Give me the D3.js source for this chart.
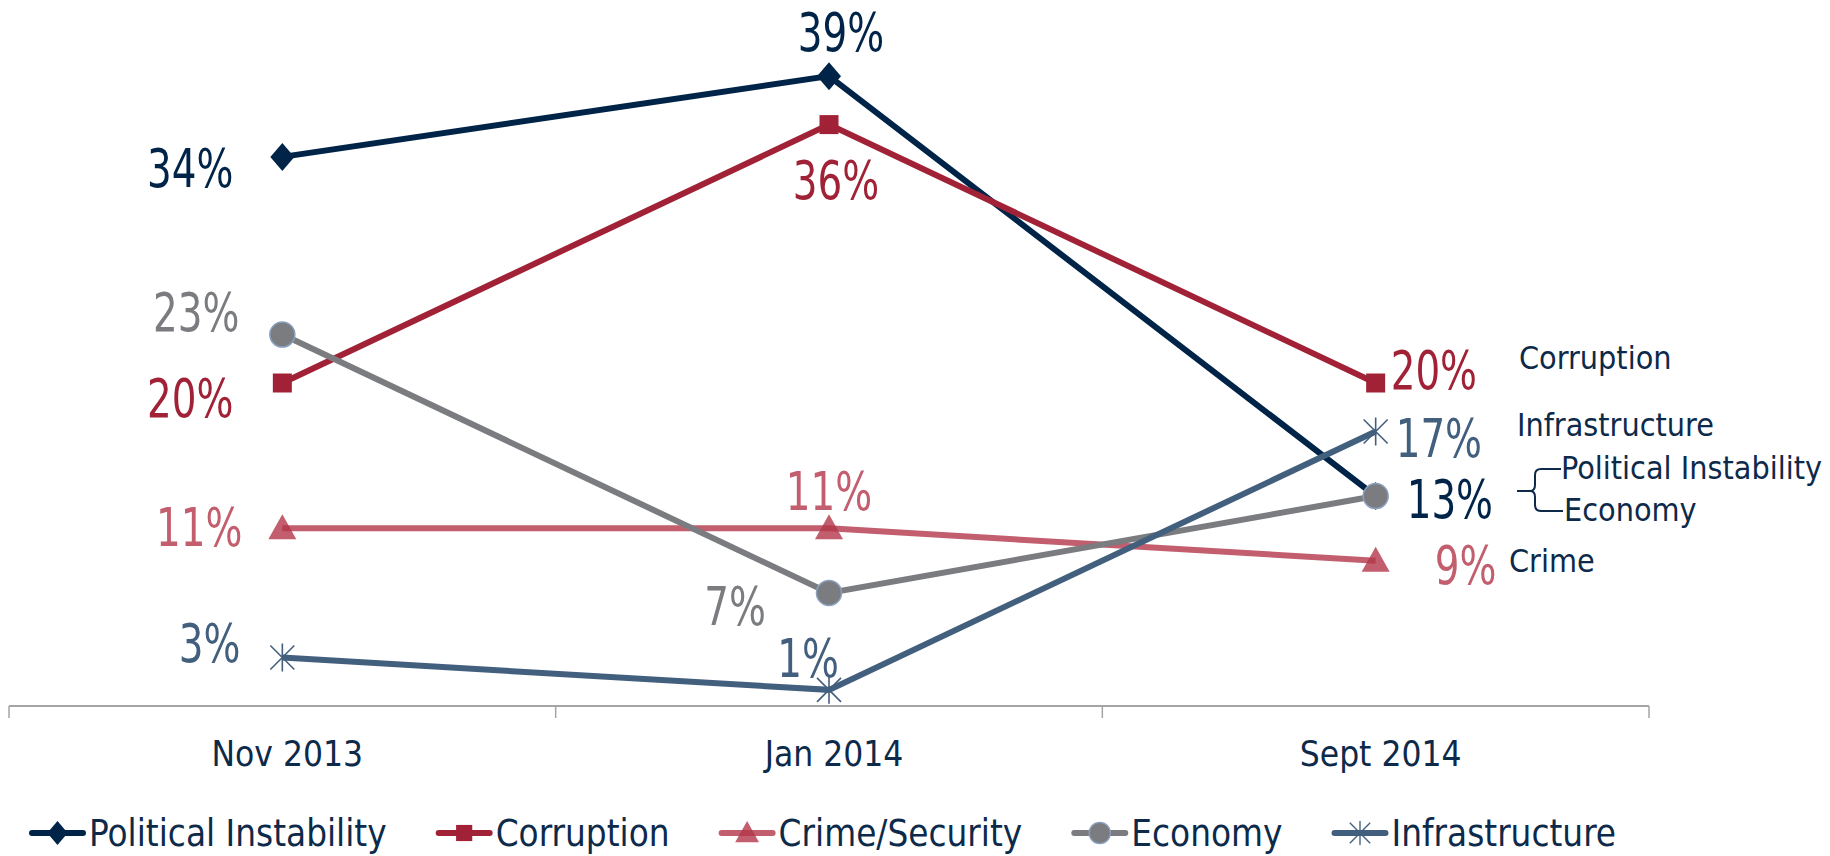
<!DOCTYPE html>
<html lang="en">
<head>
    <meta charset="UTF-8">
    <title>Most important problem facing the country</title>
    <script src="https://d3js.org/d3.v7.min.js"></script>
    <style>
        body {
            margin: 0;
            background: #ffffff;
        }
        svg {
            display: block;
        }
        .pct {
            font-family: 'DejaVu Sans Condensed', 'DejaVu Sans', sans-serif;
            font-size: 54px;
        }
        .axis-label, .legend-text, .note {
            font-family: 'DejaVu Sans Condensed', 'DejaVu Sans', sans-serif;
            fill: #0d2a4a;
        }
    </style>
</head>
<body>
<svg id="chart" width="1830" height="856"></svg>

<script>
    // Data
    const categories = ['Nov 2013', 'Jan 2014', 'Sept 2014'];

    const politicalInstability = [34, 39, 13];
    const corruption = [20, 36, 20];
    const crimeSecurity = [11, 11, 9];
    const economy = [23, 7, 13];
    const infrastructure = [3, 1, 17];

    const seriesNames = ['Political Instability', 'Corruption', 'Crime/Security', 'Economy', 'Infrastructure'];

    // label placement per point: [dx, dy, anchor] (null = no label)
    const labelPos = [
        [[-49, 12, 'end'], [12, -43, 'middle'], [31, 4, 'start']],
        [[-49, 16, 'end'], [7, 56, 'middle'], [15, -12, 'start']],
        [[-40, -1, 'end'], [0, -37, 'middle'], [59, 5, 'start']],
        [[-43, -22, 'end'], [-63, 14, 'end'], null],
        [[-42, -14, 'end'], [-21, -31, 'middle'], [20, 7, 'start']]
    ];

    const series = [
        { name: seriesNames[0], values: politicalInstability, color: '#002448', marker: 'diamond', opacity: 1 },
        { name: seriesNames[1], values: corruption, color: '#a12236', marker: 'square', opacity: 1 },
        { name: seriesNames[2], values: crimeSecurity, color: '#b3364a', marker: 'triangle', opacity: 0.8 },
        { name: seriesNames[3], values: economy, color: '#7b7c80', marker: 'circle', opacity: 1 },
        { name: seriesNames[4], values: infrastructure, color: '#435f7e', marker: 'star', opacity: 1 }
    ];

    const svg = d3.select('#chart');

    const x = d3.scaleBand().domain(categories).range([9, 1649]);
    const y = d3.scaleLinear().domain([0, 40]).range([706, 60]);
    const cx = d => x(d) + x.bandwidth() / 2;

    // x axis
    const axisG = svg.append('g').attr('transform', 'translate(0,706)');
    axisG.append('line')
        .attr('x1', 9).attr('x2', 1649)
        .attr('stroke', '#a5a5a8').attr('stroke-width', 2);
    axisG.selectAll('.tick-mark')
        .data(d3.range(categories.length + 1))
        .enter().append('line')
        .attr('x1', i => 9 + i * x.step())
        .attr('x2', i => 9 + i * x.step())
        .attr('y1', 0).attr('y2', 12)
        .attr('stroke', '#a5a5a8').attr('stroke-width', 1.5);
    axisG.selectAll('.axis-label')
        .data(categories)
        .enter().append('text')
        .attr('class', 'axis-label')
        .attr('x', d => cx(d) + 5)
        .attr('y', 48)
        .attr('text-anchor', 'middle')
        .attr('dominant-baseline', 'central')
        .attr('font-size', 35)
        .text(d => d);

    function markerPath(type) {
        switch (type) {
            case 'diamond': return 'M0,-14L12,0L0,14L-12,0Z';
            case 'square': return 'M-9.5,-9.5H9.5V9.5H-9.5Z';
            case 'triangle': return 'M0,-14L14,11H-14Z';
            case 'star': return 'M0,-14V14M-12,-12L12,12M-12,12L12,-12';
            default: return null;
        }
    }

    function drawMarker(g, type, color, opacity) {
        if (type === 'circle') {
            g.append('circle').attr('r', 12.5)
                .attr('fill', color)
                .attr('stroke', '#8aa0bf').attr('stroke-width', 1.5);
        } else if (type === 'star') {
            g.append('path').attr('d', markerPath(type))
                .attr('fill', 'none')
                .attr('stroke', color).attr('stroke-width', 1.6);
        } else {
            g.append('path').attr('d', markerPath(type))
                .attr('fill', color).attr('fill-opacity', opacity);
        }
    }

    const line = d3.line()
        .x((d, i) => cx(categories[i]))
        .y(d => y(d));

    series.forEach(s => {
        const g = svg.append('g');
        g.append('path')
            .datum(s.values)
            .attr('fill', 'none')
            .attr('stroke', s.color)
            .attr('stroke-opacity', s.opacity)
            .attr('stroke-width', 6)
            .attr('d', line);
        s.values.forEach((v, i) => {
            const m = g.append('g').attr('transform', `translate(${cx(categories[i])},${y(v)})`);
            drawMarker(m, s.marker, s.color, s.opacity);
        });
    });

    // data labels (narrowed to match the condensed face of the original)
    series.forEach((s, si) => {
        s.values.forEach((v, i) => {
            const p = labelPos[si][i];
            if (!p) return;
            svg.append('text')
                .attr('class', 'pct')
                .attr('transform', `translate(${cx(categories[i]) + p[0]},${y(v) + p[1]}) scale(0.8,1)`)
                .attr('text-anchor', p[2])
                .attr('dominant-baseline', 'central')
                .attr('fill', s.color)
                .attr('fill-opacity', s.opacity)
                .text(v + '%');
        });
    });

    // right side notes
    const notes = [
        { text: 'Corruption', x: 1519, y: 358 },
        { text: 'Infrastructure', x: 1517, y: 425 },
        { text: 'Political Instability', x: 1561, y: 468 },
        { text: 'Economy', x: 1564, y: 510 },
        { text: 'Crime', x: 1509, y: 561 }
    ];
    svg.selectAll('.note')
        .data(notes)
        .enter().append('text')
        .attr('class', 'note')
        .attr('x', d => d.x)
        .attr('y', d => d.y)
        .attr('dominant-baseline', 'central')
        .attr('font-size', 32)
        .text(d => d.text);

    svg.append('path')
        .attr('d', 'M1517,491H1530Q1535,491 1535,485V475Q1535,469 1541,469H1561' +
                   'M1530,491Q1535,491 1535,497V505Q1535,511 1541,511H1563')
        .attr('fill', 'none')
        .attr('stroke', '#0d2a4a')
        .attr('stroke-width', 2);

    // legend
    const legend = svg.append('g').attr('transform', 'translate(0,833)');
    let lx = 32;
    series.forEach(s => {
        const item = legend.append('g').attr('transform', `translate(${lx},0)`);
        item.append('line')
            .attr('x1', 0).attr('x2', 51)
            .attr('stroke', s.color)
            .attr('stroke-opacity', s.opacity)
            .attr('stroke-width', 6)
            .attr('stroke-linecap', 'round');
        const m = item.append('g').attr('transform', 'translate(25.5,0) scale(0.85)');
        drawMarker(m, s.marker, s.color, s.opacity);
        const t = item.append('text')
            .attr('class', 'legend-text')
            .attr('x', 57)
            .attr('dominant-baseline', 'central')
            .attr('font-size', 36.5)
            .text(s.name);
        lx += 57 + t.node().getComputedTextLength() + 52;
    });
</script>
</body>
</html>
